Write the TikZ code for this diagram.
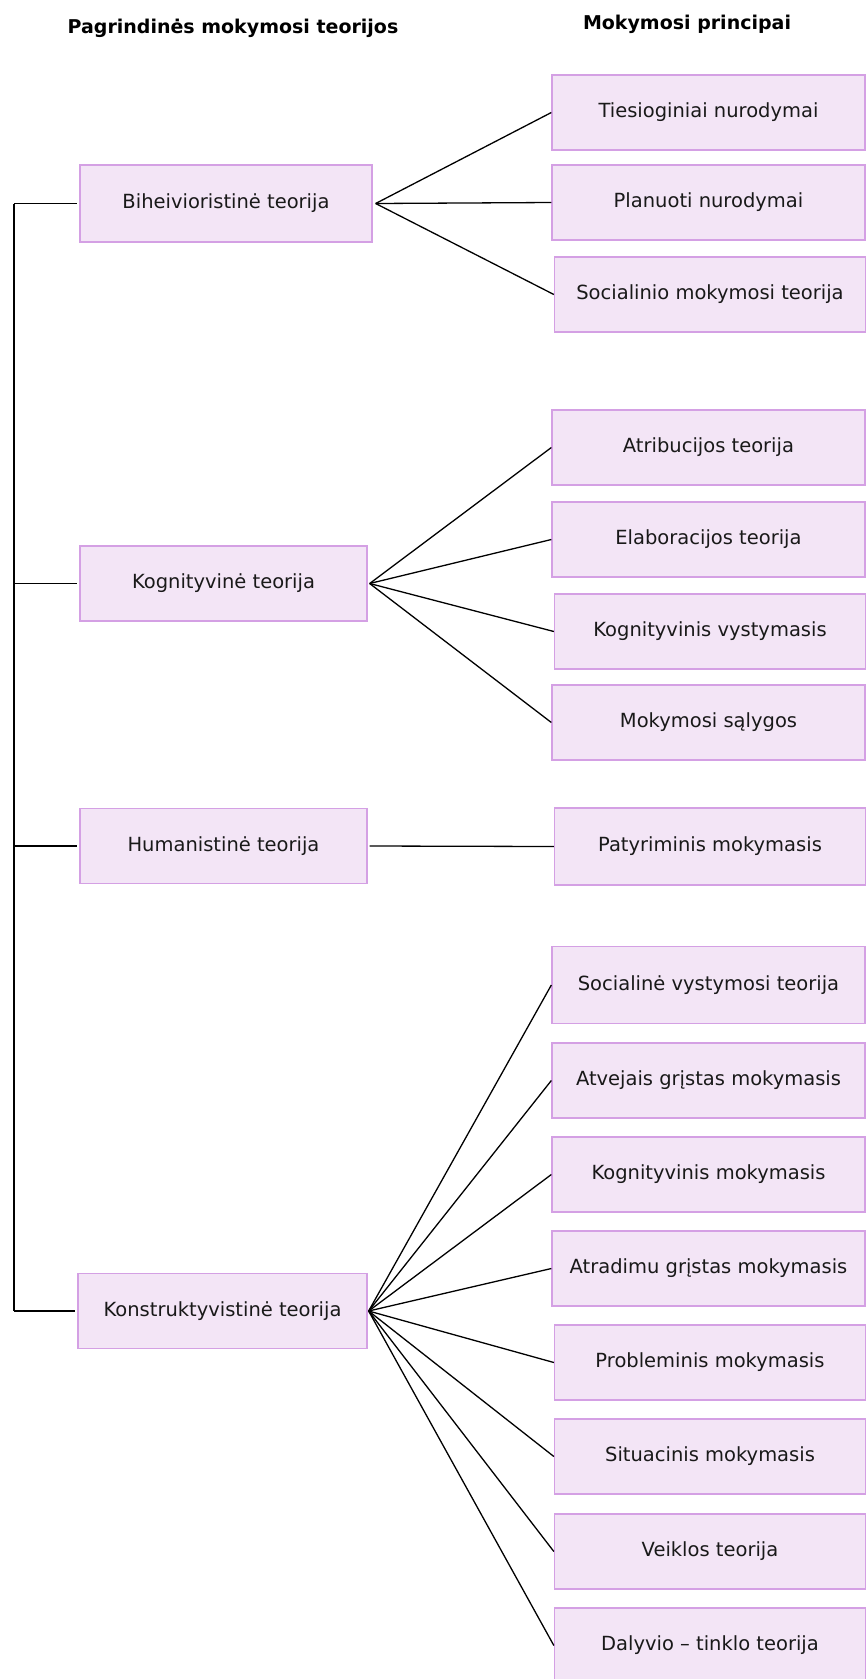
\documentclass[tikz,border=0pt]{standalone}
\usepackage{fontspec}
\setmainfont{DejaVu Sans}
\definecolor{boxfill}{RGB}{243,229,246}
\definecolor{boxline}{RGB}{212,160,228}
\begin{document}
\begin{tikzpicture}[x=1pt,y=-1pt,
  box/.style={rectangle,draw=boxline,fill=boxfill,line width=1.3pt,
    minimum width=313pt,minimum height=75pt,inner sep=0pt,
    font=\fontsize{19.5}{23}\selectfont,text=black!90},
  lbox/.style={box,minimum width=289pt},
  hdr/.style={font=\fontsize{19}{23}\selectfont\bfseries},
  conn/.style={line width=1.3pt,black}]
\useasboundingbox (0,0) rectangle (866,1679);
% headers
\node[hdr] (h1) at (233,28) {Pagrindinės mokymosi teorijos};
\node[hdr] (h2) at (687,24) {Mokymosi principai};
% left boxes
\node[lbox,minimum width=292pt,minimum height=77pt] (bih) at (226,203.5) {Biheivioristinė teorija};
\node[lbox,minimum width=287pt] (kog) at (223.5,583.5) {Kognityvinė teorija};
\node[lbox,minimum width=287pt] (hum) at (223.5,846) {Humanistinė teorija};
\node[lbox] (kon) at (222.5,1311) {Konstruktyvistinė teorija};
% right boxes
\node[box] (r1) at (708.5,112.5) {Tiesioginiai nurodymai};
\node[box] (r2) at (708.5,202.5) {Planuoti nurodymai};
\node[box,minimum width=311pt] (r3) at (710,294.5) {Socialinio mokymosi teorija};
\node[box] (r4) at (708.5,447.5) {Atribucijos teorija};
\node[box] (r5) at (708.5,539.5) {Elaboracijos teorija};
\node[box,minimum width=311pt] (r6) at (710,631.5) {Kognityvinis vystymasis};
\node[box] (r7) at (708.5,722.5) {Mokymosi sąlygos};
\node[box,minimum width=311pt,minimum height=77pt] (r8) at (710,846.5) {Patyriminis mokymasis};
\node[box,minimum height=77pt] (r9) at (708.5,985) {Socialinė vystymosi teorija};
\node[box] (r10) at (708.5,1080.5) {Atvejais grįstas mokymasis};
\node[box] (r11) at (708.5,1174.5) {Kognityvinis mokymasis};
\node[box] (r12) at (708.5,1268.5) {Atradimu grįstas mokymasis};
\node[box,minimum width=311pt] (r13) at (710,1362.5) {Probleminis mokymasis};
\node[box,minimum width=311pt] (r14) at (710,1456.5) {Situacinis mokymasis};
\node[box,minimum width=311pt] (r15) at (710,1551.5) {Veiklos teorija};
\node[box,minimum width=311pt] (r16) at (710,1645.5) {Dalyvio – tinklo teorija};
% spine
\coordinate (st) at (14,203.5);
\coordinate (sb) at (14,1311);
\draw[conn] (st) -- (sb);
\draw[conn] (st) -- ([xshift=-2pt]bih.west);
\draw[conn] (kog.west -| st) -- ([xshift=-2pt]kog.west);
\draw[conn] (hum.west -| st) -- ([xshift=-2pt]hum.west);
\draw[conn] (sb) -- ([xshift=-2pt]kon.west);
% connectors
\foreach \t in {r1,r2,r3} \draw[conn] ([xshift=3pt]bih.east) -- (\t.west);
\foreach \t in {r4,r5,r6,r7} \draw[conn] ([xshift=2pt]kog.east) -- (\t.west);
\draw[conn] ([xshift=2pt]hum.east) -- (r8.west);
\foreach \t in {r9,r10,r11,r12,r13,r14,r15,r16} \draw[conn] ([xshift=1pt]kon.east) -- (\t.west);
\end{tikzpicture}
\end{document}
